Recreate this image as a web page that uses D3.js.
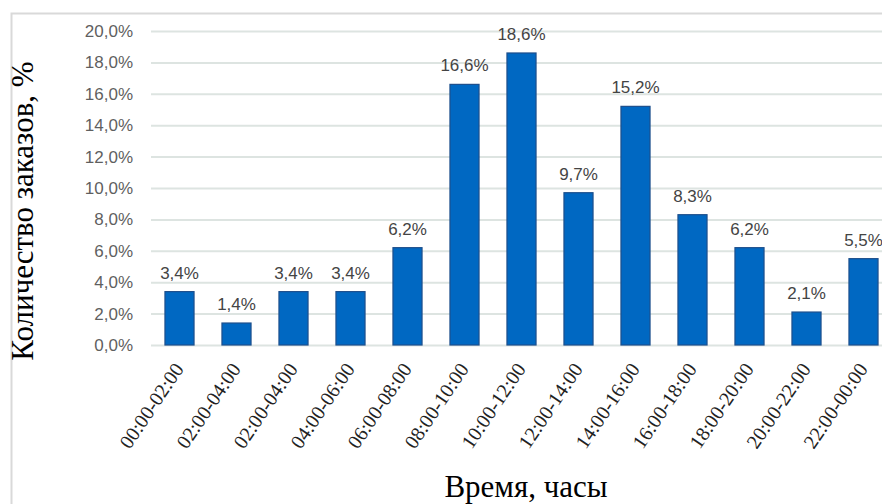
<!DOCTYPE html>
<html>
<head>
<meta charset="utf-8">
<script src="https://cdn.jsdelivr.net/npm/d3@7"></script>
<style>
  html, body { margin: 0; padding: 0; background: #fff; }
  svg { display: block; }
</style>
</head>
<body>
<svg id="chart" width="882" height="504"></svg>
<script>
// ---- data ----
const categories = ["00:00-02:00","02:00-04:00","02:00-04:00","04:00-06:00","06:00-08:00",
  "08:00-10:00","10:00-12:00","12:00-14:00","14:00-16:00","16:00-18:00",
  "18:00-20:00","20:00-22:00","22:00-00:00"];
const values = [3.4, 1.4, 3.4, 3.4, 6.2, 16.6, 18.6, 9.7, 15.2, 8.3, 6.2, 2.1, 5.5];
const yTicks = [0, 2, 4, 6, 8, 10, 12, 14, 16, 18, 20];
const yTitle = "Количество заказов, %";
const xTitle = "Время, часы";

// ---- layout ----
const svg = d3.select("#chart");
const plot = { left: 151, right: 892, top: 31, bottom: 345 };

const ru = d3.formatLocale({ decimal: ",", thousands: " ", grouping: [3], currency: ["", ""] });
const fmt = ru.format(".1f");

const x = d3.scaleBand()
  .domain(d3.range(categories.length))
  .range([plot.left, plot.right])
  .paddingInner(0.49)
  .paddingOuter(0.245);

const y = d3.scaleLinear().domain([0, 20]).range([plot.bottom, plot.top]);

// frame
svg.append("rect").attr("x", 0).attr("y", 0).attr("width", 882).attr("height", 504).attr("fill", "#fff");
svg.append("path")
  .attr("d", "M11.5,504 V13.5 H882")
  .attr("fill", "none").attr("stroke", "#d9d9d9").attr("stroke-width", 2);

// y axis with gridlines
const yAxis = svg.append("g")
  .attr("transform", `translate(${plot.left},0)`)
  .call(d3.axisLeft(y).tickValues(yTicks).tickSize(-(plot.right - plot.left)).tickPadding(18)
    .tickFormat(d => fmt(d) + "%"));
yAxis.select(".domain").remove();
yAxis.selectAll(".tick line").attr("stroke", "#dde4e1").attr("stroke-width", 2);
yAxis.selectAll(".tick text")
  .attr("font-family", "'Liberation Sans', Arial, sans-serif")
  .attr("font-size", 17).attr("fill", "#5f5f5f");

// bars
svg.append("g").selectAll("rect")
  .data(values)
  .join("rect")
  .attr("x", (d, i) => x(i))
  .attr("y", d => y(d))
  .attr("width", x.bandwidth())
  .attr("height", d => y(0) - y(d))
  .attr("fill", "#0068c2")
  .attr("stroke", "#1d4f8c")
  .attr("stroke-width", 1.2);

// data labels
svg.append("g").selectAll("text")
  .data(values)
  .join("text")
  .attr("x", (d, i) => x(i) + x.bandwidth() / 2)
  .attr("y", d => y(d) - 13)
  .attr("text-anchor", "middle")
  .attr("font-family", "'Liberation Sans', Arial, sans-serif")
  .attr("font-size", 17)
  .attr("fill", "#444")
  .text(d => fmt(d) + "%");

// x axis
const xAxis = svg.append("g")
  .attr("transform", `translate(0,${plot.bottom})`)
  .call(d3.axisBottom(x).tickSize(0).tickFormat(i => categories[i]));
xAxis.select(".domain").remove();
xAxis.selectAll(".tick text")
  .attr("x", 0).attr("y", 0).attr("dy", null)
  .attr("text-anchor", "end")
  .attr("transform", "translate(5,24) rotate(-56)")
  .attr("font-family", "'Liberation Serif', 'Times New Roman', serif")
  .attr("font-size", 20)
  .attr("fill", "#222");

// axis titles
svg.append("text")
  .attr("transform", "translate(33,211) rotate(-90)")
  .attr("text-anchor", "middle")
  .attr("font-family", "'Liberation Serif', 'Times New Roman', serif")
  .attr("font-size", 31)
  .attr("fill", "#000")
  .text(yTitle);

svg.append("text")
  .attr("x", 526).attr("y", 497)
  .attr("text-anchor", "middle")
  .attr("font-family", "'Liberation Serif', 'Times New Roman', serif")
  .attr("font-size", 31)
  .attr("fill", "#000")
  .text(xTitle);
</script>
</body>
</html>
